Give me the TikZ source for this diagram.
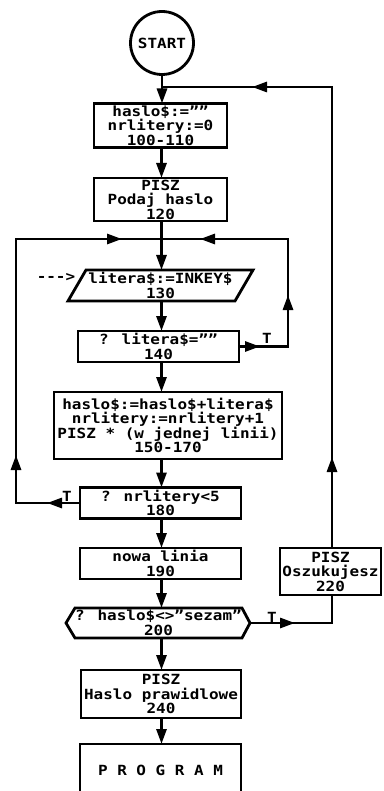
\documentclass[tikz,border=0pt]{standalone}
\usepackage{fontspec}
\newfontfamily\pixfont[FakeStretch=1.14]{DejaVu Sans Mono}
\usetikzlibrary{arrows.meta}
\tikzset{
  txt/.style={font=\pixfont\bfseries\fontsize{14pt}{14.5pt}\selectfont, align=center, inner xsep=0pt, inner ysep=-3pt, outer sep=0pt},
  box/.style={txt, draw, line width=2.8pt, rectangle},
  ln/.style={line width=2.8pt},
  arr/.style={line width=2.8pt, -{Triangle[length=15pt,width=10pt]}},
}
\begin{document}
\begin{tikzpicture}[x=1pt,y=-1pt]
\fill[white] (0,0) rectangle (383,791);
\useasboundingbox (0,0) rectangle (383,791);
\clip (0,0) rectangle (383,791);

% nodes
\node[txt, draw, circle, line width=2.8pt, minimum size=63pt, inner sep=0pt] (start) at (162,43) {START};
\node[box, minimum width=133pt, minimum height=44pt] (b1) at (160.5,125.5) {haslo\$:=””\\nrlitery:=0\\100-110};
\node[box, minimum width=133pt, minimum height=43pt] (b2) at (160.5,199.5) {PISZ\\Podaj haslo\\120};
\node[txt, minimum width=167pt, minimum height=31pt] (para) at (160.5,285.5) {litera\$:=INKEY\$\\130};
\draw[ln] ([xshift=9pt]para.north west) -- ([xshift=9pt]para.north east) -- ([xshift=-9pt]para.south east) -- ([xshift=-9pt]para.south west) -- cycle;
\node[box, minimum width=161pt, minimum height=31pt] (b140) at (158.5,346.5) {? litera\$=””\\140};
\node[box, minimum width=228pt, minimum height=67pt] (b150) at (168,425.5) {haslo\$:=haslo\$+litera\$\\nrlitery:=nrlitery+1\\PISZ * (w jednej linii)\\150-170};
\node[box, minimum width=161pt, minimum height=31pt] (b180) at (160.5,503) {? nrlitery<5\\180};
\node[box, minimum width=161pt, minimum height=31pt] (nowa) at (160.5,563.5) {nowa linia\\190};
\node[box, minimum width=101pt, minimum height=47pt] (b220) at (330.5,571.5) {PISZ\\Oszukujesz\\220};
\node[txt, minimum width=167pt, minimum height=30pt] (hex) at (158.5,623) {? haslo\$<>”sezam”\\200};
\draw[ln] (hex.north west) -- (hex.north east) -- ([xshift=8pt]hex.east) -- (hex.south east) -- (hex.south west) -- ([xshift=-9pt]hex.west) -- cycle;
\node[box, minimum width=160pt, minimum height=48pt] (b240) at (161,694) {PISZ\\Haslo prawidlowe\\240};
\node[box, minimum width=161pt, minimum height=52pt] (prog) at (160.5,770) {P R O G R A M};

\node[txt] (dash) at (56,277) {\mbox{-}\mbox{-}\mbox{-}>};
\node[txt] (t1) at (267,338) {T};
\node[txt] (t2) at (67,496) {T};
\node[txt] (t3) at (272,617) {T};

% helper coordinates
\coordinate (cx) at (161.5,0);
\coordinate (j0) at (161.5,87);
\coordinate (L) at (16,239);
\coordinate (R) at (288,239);
\coordinate (rx) at (332,0);

% main column
\draw[arr] (start.south) -- (start.south |- b1.north);
\draw[arr] (b1.south -| cx) -- (b2.north -| cx);
\draw[arr] (b2.south -| cx) -- (para.north -| cx);
\draw[arr] (para.south -| cx) -- (b140.north -| cx);
\draw[arr] (b140.south -| cx) -- (b150.north -| cx);
\draw[arr] (b150.south -| cx) -- (b180.north -| cx);
\draw[arr] (b180.south -| cx) -- (nowa.north -| cx);
\draw[arr] (nowa.south -| cx) -- (hex.north -| cx);
\draw[arr] (hex.south -| cx) -- (b240.north -| cx);
\draw[arr] (b240.south -| cx) -- (prog.north -| cx);

% inner loops
\draw[ln] (b180.west) -| (L) -- (R) |- (b140.east);
\draw[arr] (100,239) -- (122,239);
\draw[arr] (230,239) -- (200,239);
\draw[arr] (288,320) -- (288,295);
\draw[arr] (b140.east) -- (260,346.5);
\draw[arr] (b180.west) -- (47,503);
\draw[arr] (16,480) -- (16,455);

% outer loop
\draw[ln] ([xshift=8pt]hex.east) -| (b220.south -| rx);
\draw[ln] (b220.north -| rx) |- (j0);
\draw[arr] (270,623) -- (295,623);
\draw[arr] (332,480) -- (332,457);
\draw[arr] (280,87) -- (252,87);
\end{tikzpicture}
\end{document}
